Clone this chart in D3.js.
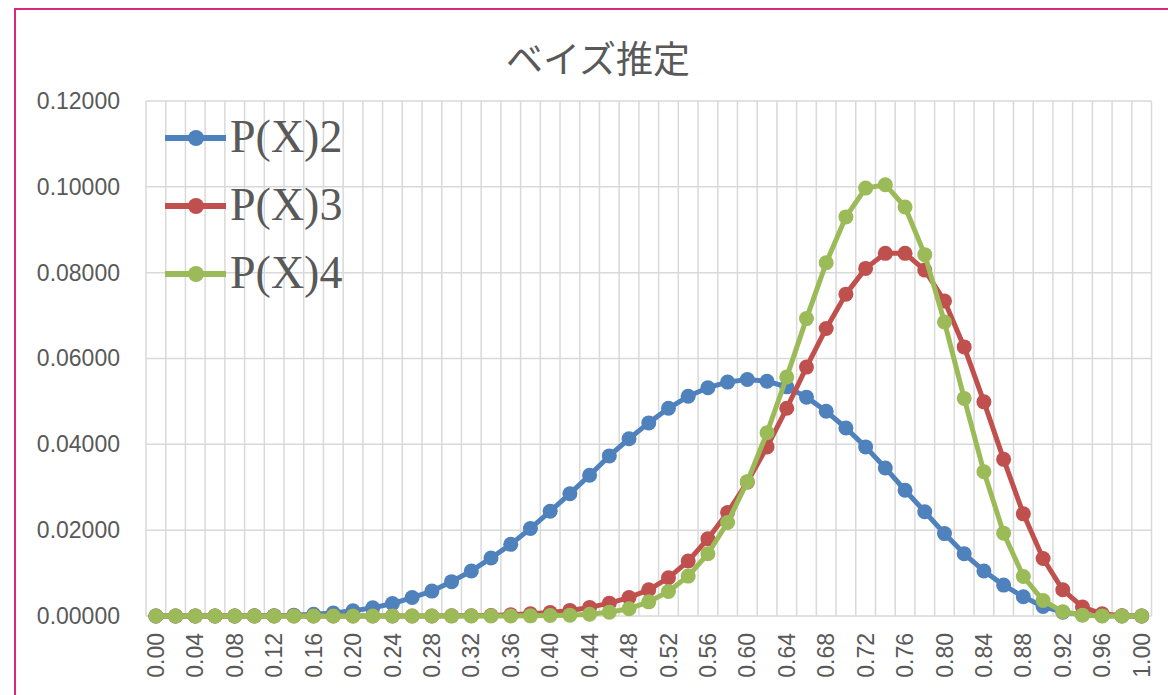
<!DOCTYPE html>
<html>
<head>
<meta charset="utf-8">
<script src="https://cdn.jsdelivr.net/npm/d3@7"></script>
<style>
html,body{margin:0;padding:0;background:#fff;overflow:hidden;}
svg{display:block;}
</style>
</head>
<body>
<svg id="chart" width="1168" height="695"></svg>
<script>
const categories = ["0.00","0.02","0.04","0.06","0.08","0.10","0.12","0.14","0.16","0.18",
"0.20","0.22","0.24","0.26","0.28","0.30","0.32","0.34","0.36","0.38",
"0.40","0.42","0.44","0.46","0.48","0.50","0.52","0.54","0.56","0.58",
"0.60","0.62","0.64","0.66","0.68","0.70","0.72","0.74","0.76","0.78",
"0.80","0.82","0.84","0.86","0.88","0.90","0.92","0.94","0.96","0.98","1.00"];

const px2 = [0,0,0,0,0.00001,0.00003,0.00008,0.0002,0.0004,0.0007,
0.0012,0.0019,0.0029,0.0043,0.0058,0.0080,0.0105,0.0135,0.0167,0.0204,
0.0244,0.0285,0.0328,0.0373,0.0413,0.0450,0.0484,0.0512,0.0532,0.0545,
0.0551,0.0547,0.0534,0.0510,0.0477,0.0438,0.0394,0.0345,0.0293,0.0243,
0.0192,0.0145,0.0105,0.0072,0.0045,0.0022,0.0009,0.0003,0.00005,0,0];

const px3 = [0,0,0,0,0,0,0,0,0,0,
0,0,0,0,0.00001,0.00003,0.00006,0.00013,0.0003,0.0005,
0.0008,0.0013,0.0020,0.0030,0.0043,0.0061,0.0089,0.0128,0.0180,0.0241,
0.0312,0.0394,0.0484,0.0580,0.0670,0.0750,0.0810,0.0845,0.0845,0.0806,
0.0734,0.0627,0.0499,0.0365,0.0238,0.0134,0.0061,0.0021,0.0005,0.00005,0];

const px4 = [0,0,0,0,0,0,0,0,0,0,
0,0,0,0,0,0,0,0,0,0.00003,
0.0001,0.0002,0.0004,0.0009,0.0017,0.0033,0.0057,0.0093,0.0145,0.0218,
0.0313,0.0427,0.0557,0.0693,0.0823,0.0930,0.0997,0.1005,0.0953,0.0842,
0.0685,0.0507,0.0336,0.0193,0.0092,0.0036,0.0010,0.0002,0.00002,0,0];

const seriesNames = ["P(X)2","P(X)3","P(X)4"];
const seriesValues = [px2, px3, px4];
const seriesColors = ["#4F81BD","#C0504D","#9BBB59"];
const yTicks = [0,0.02,0.04,0.06,0.08,0.10,0.12];
const xTickLabels = categories.filter((d,i)=>i%2===0);
const chartTitle = "ベイズ推定";

(function(){
const svg = d3.select("#chart");
const pL = 146, pR = 1151.5, pT = 101, pB = 616;

svg.append("rect").attr("x",15).attr("y",9).attr("width",1200).attr("height",720)
  .attr("fill","none").attr("stroke","#D6287C").attr("stroke-width",2);

const x = d3.scaleBand().domain(categories).range([pL,pR]).padding(0);
const y = d3.scaleLinear().domain([0,0.12]).range([pB,pT]);

const grid = svg.append("g");
const bounds = categories.map(c=>x(c)).concat([x(categories[categories.length-1])+x.bandwidth()]);
grid.selectAll("line.v").data(bounds).join("line").attr("class","v")
  .attr("x1",d=>d).attr("x2",d=>d).attr("y1",pT).attr("y2",pB)
  .attr("stroke","#D9D9D9").attr("stroke-width",1.5);
grid.selectAll("line.h").data(yTicks).join("line").attr("class","h")
  .attr("x1",pL).attr("x2",pR).attr("y1",d=>y(d)).attr("y2",d=>y(d))
  .attr("stroke","#D9D9D9").attr("stroke-width",1.5);

const yAxis = d3.axisLeft(y).tickValues(yTicks).tickFormat(d3.format(".5f")).tickSize(0).tickPadding(26);
const yg = svg.append("g").attr("transform",`translate(${pL},0)`).call(yAxis);
yg.select(".domain").remove();
yg.selectAll("text").attr("fill","#595959").style("font-family","'Liberation Sans', Arial, sans-serif").style("font-size","23px");

const xAxis = d3.axisBottom(x).tickValues(xTickLabels).tickSize(0).tickPadding(0);
const xg = svg.append("g").attr("transform",`translate(0,${pB})`).call(xAxis);
xg.select(".domain").remove();
xg.selectAll("text")
  .attr("fill","#595959").style("font-family","'Liberation Sans', Arial, sans-serif").style("font-size","23px")
  .attr("transform","rotate(-90)").attr("text-anchor","end").attr("dy","0.35em").attr("x",-17).attr("y",0);

const line = d3.line().x((d,i)=>x(categories[i])+x.bandwidth()/2).y(d=>y(d));
seriesValues.forEach((vals,si)=>{
  const g = svg.append("g");
  g.append("path").datum(vals).attr("d",line).attr("fill","none")
    .attr("stroke",seriesColors[si]).attr("stroke-width",5).attr("stroke-linejoin","round");
  g.selectAll("circle").data(vals).join("circle")
    .attr("cx",(d,i)=>x(categories[i])+x.bandwidth()/2).attr("cy",d=>y(d)).attr("r",7.5)
    .attr("fill",seriesColors[si]);
});

const leg = svg.append("g");
seriesNames.forEach((n,i)=>{
  const cy = 138 + i*68;
  leg.append("line").attr("x1",165).attr("x2",226).attr("y1",cy).attr("y2",cy)
    .attr("stroke",seriesColors[i]).attr("stroke-width",6);
  leg.append("circle").attr("cx",196).attr("cy",cy).attr("r",8).attr("fill",seriesColors[i]);
  leg.append("text").attr("x",230).attr("y",cy+14).text(n)
    .attr("fill","#595959").style("font-family","'Liberation Serif','Times New Roman',serif").style("font-size","46px");
});

svg.append("text").attr("x",598).attr("y",73).attr("text-anchor","middle").text(chartTitle)
  .attr("fill","#595959").style("font-family","'Noto Sans CJK JP', sans-serif").style("font-size","37px");
})();
</script>
</body>
</html>
